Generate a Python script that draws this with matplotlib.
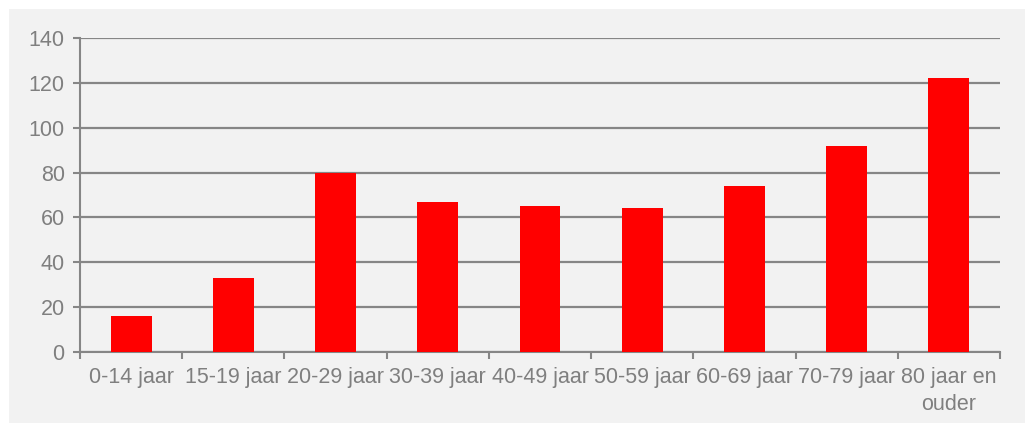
import matplotlib.pyplot as plt
import numpy as np
from matplotlib.patches import Rectangle

categories = ['0-14 jaar', '15-19 jaar', '20-29 jaar', '30-39 jaar', '40-49 jaar',
              '50-59 jaar', '60-69 jaar', '70-79 jaar', '80 jaar en\nouder']
values = [16, 33, 80, 67, 65, 64, 74, 92, 122]
yticks = [0, 20, 40, 60, 80, 100, 120, 140]

plt.rcParams['font.family'] = ['Liberation Sans', 'DejaVu Sans']
grey = '#868686'
text_grey = '#7f7f7f'

fig = plt.figure(figsize=(10.25, 4.23), dpi=100)
fig.patch.set_facecolor('white')
# light grey panel behind the chart
fig.patches.append(Rectangle((9 / 1025, 0), 1 - 9 / 1025, (423 - 9) / 423,
                             transform=fig.transFigure, facecolor='#f2f2f2',
                             edgecolor='none', zorder=-10))

ax = fig.add_axes([80 / 1025, 71 / 423, 920 / 1025, 314 / 423])
ax.set_zorder(1)
ax.set_facecolor('none')

x = np.arange(len(categories))
ax.bar(x, values, width=0.4, color='#ff0000', zorder=3)

ax.set_xlim(-0.5, len(categories) - 0.5)
ax.set_ylim(0, 140)
ax.set_yticks(yticks)
ax.yaxis.grid(True, color=grey, linewidth=1.6, zorder=1)
ax.set_axisbelow(True)
ax.tick_params(axis='y', colors=grey, labelcolor=text_grey, labelsize=15.5,
               length=5, width=1.5, direction='out', pad=6)

ax.set_xticks(x)
ax.set_xticklabels(categories, fontsize=15.5, color=text_grey, linespacing=1.35)
ax.set_xticks(np.arange(len(categories) + 1) - 0.5, minor=True)
ax.tick_params(axis='x', which='major', length=0, pad=11)
ax.tick_params(axis='x', which='minor', colors=grey, length=5, width=1.5,
               direction='out')

for side in ['top', 'right']:
    ax.spines[side].set_visible(False)
for side in ['left', 'bottom']:
    ax.spines[side].set_color(grey)
    ax.spines[side].set_linewidth(1.5)

fig.savefig('out.png', dpi=100)
